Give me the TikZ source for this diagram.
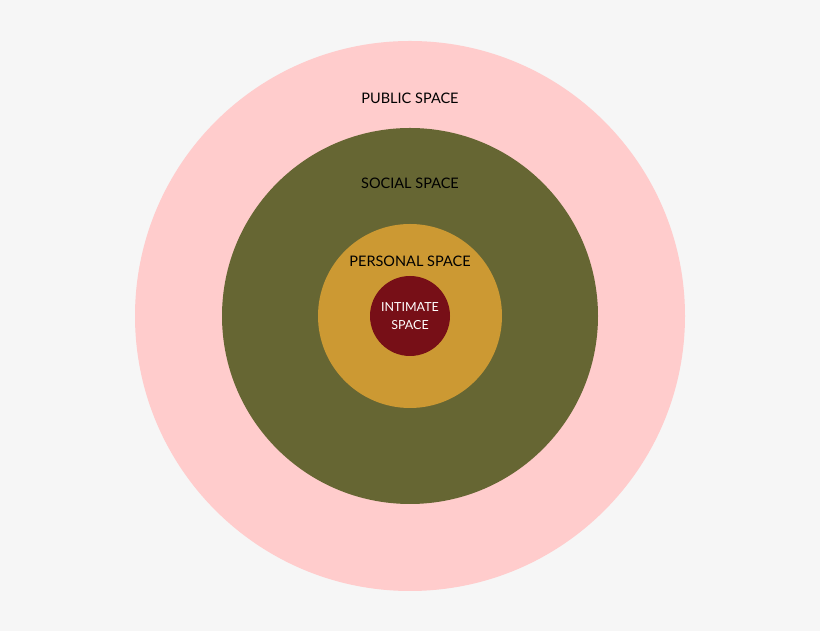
\documentclass[tikz,border=0pt]{standalone}
\usepackage{fontspec}
\setmainfont{Lato}
\usepackage{xcolor}
\usepackage{tikz}
\definecolor{bgGray}{HTML}{F6F6F6}
\definecolor{publicPink}{HTML}{FFCCCC}
\definecolor{socialOlive}{HTML}{666633}
\definecolor{personalGold}{HTML}{CC9933}
\definecolor{intimateRed}{HTML}{770F17}
\tikzset{
	zone/.style={circle, inner sep=0pt, draw=none},
	zonelabel/.style={font=\fontsize{14.5}{16}\selectfont, text=black, inner sep=0pt, align=center}
}

\begin{document}
\begin{tikzpicture}[x=1pt, y=1pt]
	\fill[bgGray] (0,0) rectangle (820,631);
	\useasboundingbox (0,0) rectangle (820,631);
    \node[zone, fill=publicPink, minimum size=550pt] (public) at (410,315) {};
    \node[zone, fill=socialOlive, minimum size=376pt] (social) at (410,315) {};
    \node[zone, fill=personalGold, minimum size=184pt] (personal) at (410,315) {};
    \node[zone, fill=intimateRed, minimum size=80pt] (intimate) at (410,315) {};
    \node[zonelabel] (publicLabel) at (410,533) {PUBLIC SPACE};
    \node[zonelabel] (socialLabel) at (410,448) {SOCIAL SPACE};
    \node[zonelabel] (personalLabel) at (410,370) {PERSONAL SPACE};
    \node[zonelabel, text=white, font=\fontsize{12.5}{18}\selectfont] (intimateLabel) at (410,315) {INTIMATE\\SPACE};
\end{tikzpicture}
\end{document}
